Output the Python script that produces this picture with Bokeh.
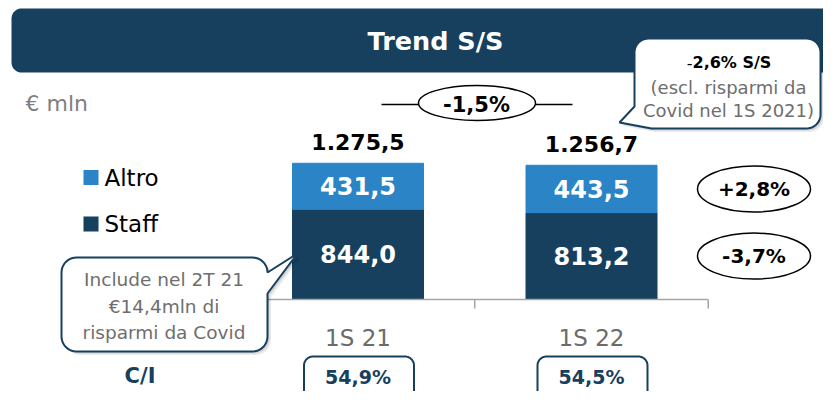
import math
from bokeh.plotting import figure
from bokeh.models import ColumnDataSource, Range1d
from bokeh.core.properties import value
from bokeh.embed import file_html
from bokeh.resources import INLINE

# ---------------- data ----------------
periods = ["1S 21", "1S 22"]
staff = [844.0, 813.2]
altro = [431.5, 443.5]
totals = [1275.5, 1256.7]
cost_income = ["54,9%", "54,5%"]
series = ["Staff", "Altro"]
var_total = "-1,5%"
var_altro = "+2,8%"
var_staff = "-3,7%"
title_text = "Trend S/S"
unit_text = "€ mln"
ci_label = "C/I"
note_right = ["-", "2,6% S/S", "(escl. risparmi da", "Covid nel 1S 2021)"]
note_left = ["Include nel 2T 21", "€14,4mln di", "risparmi da Covid"]


def it_fmt(v):
    s = f"{v:,.1f}"
    return s.replace(",", "X").replace(".", ",").replace("X", ".")


NAVY = "#17405f"
BLUE = "#2a84c6"
GRAY = "#6e6e6e"
AXIS = "#a6a6a6"
FONT = "DejaVu Sans"

W, H = 823, 391
CX0, CSTEP = 357.5, 233.5      # px of category 0 and px per category
Y0, PPU = 299.0, 0.1068        # px of value 0 and px per unit

p = figure(width=W, height=H, output_backend="svg", toolbar_location=None,
           x_range=Range1d((0 - CX0) / CSTEP, (W - CX0) / CSTEP),
           y_range=Range1d(-(H - Y0) / PPU, Y0 / PPU),
           x_axis_location=None, y_axis_location=None, min_border=0,
           outline_line_color=None, tools="")
p.grid.visible = False
p.background_fill_color = "white"
p.border_fill_color = "white"
p.extra_x_ranges = {"px": Range1d(0, W)}
p.extra_y_ranges = {"px": Range1d(H, 0)}
PX = dict(x_range_name="px", y_range_name="px")


def rounded_poly(x0, y0, x1, y1, r, tail_right=None, tail_bl=None, n=10):
    pts = []

    def arc(cx, cy, a0, a1):
        for k in range(n + 1):
            a = math.radians(a0 + (a1 - a0) * k / n)
            pts.append((cx + r * math.cos(a), cy + r * math.sin(a)))
    arc(x0 + r, y0 + r, 180, 270)
    arc(x1 - r, y0 + r, 270, 360)
    if tail_right:
        pts.extend(tail_right)
    arc(x1 - r, y1 - r, 0, 90)
    if tail_bl:
        pts.extend(tail_bl)
    else:
        arc(x0 + r, y1 - r, 90, 180)
    return [q[0] for q in pts], [q[1] for q in pts]


def shape(xs, ys, fill, line=None, lw=0, shadow=False):
    if shadow:
        for off, al in ((3.5, 0.08), (2.0, 0.10)):
            p.patch([x + off for x in xs], [y + off for y in ys],
                    fill_color="black", fill_alpha=al, line_color=None, **PX)
    p.patch(xs, ys, fill_color=fill, line_color=line, line_width=lw, **PX)


def txt(x, y, s, size, color="black", bold=False, align="center", **kw):
    p.text(x=[x], y=[y], text=[s], text_font=value(FONT),
           text_font_size=f"{size}px", text_color=color,
           text_font_style="bold" if bold else "normal",
           text_align=align, text_baseline="middle", **kw)


# ---------------- title bar ----------------
xs, ys = rounded_poly(11, 8, 836, 72, 10)
shape(xs, ys, NAVY)
txt(435, 40, title_text, 25.5, "white", True, **PX)
txt(25, 103, unit_text, 22, "#7f7f7f", align="left", **PX)

# ---------------- bars ----------------
idx = list(range(len(periods)))
src = ColumnDataSource(dict(
    x=idx, Staff=staff, Altro=altro,
    staff_mid=[s / 2 for s in staff],
    altro_mid=[s + a / 2 for s, a in zip(staff, altro)],
    staff_lbl=[it_fmt(v) for v in staff],
    altro_lbl=[it_fmt(v) for v in altro],
    tot_y=[t + 21 / PPU for t in totals],
    tot_lbl=[it_fmt(v) for v in totals],
    cat_y=[-38 / PPU] * len(periods),
    cat=periods,
))
p.vbar_stack(series, x="x", width=131 / CSTEP, source=src, color=[NAVY, BLUE])

common = dict(text_font=value(FONT), text_align="center", text_baseline="middle")
p.text(x="x", y="staff_mid", text="staff_lbl", source=src, text_color="white",
       text_font_size="24px", text_font_style="bold", **common)
p.text(x="x", y="altro_mid", text="altro_lbl", source=src, text_color="white",
       text_font_size="24px", text_font_style="bold", **common)
p.text(x="x", y="tot_y", text="tot_lbl", source=src, text_color="black",
       text_font_size="22px", text_font_style="bold", **common)
p.text(x="x", y="cat_y", text="cat", source=src, text_color="#6b6b6b",
       text_font_size="23px", **common)

# category axis
n = len(periods)
p.segment(x0=[-0.5], y0=[0], x1=[n - 0.5], y1=[0], line_color=AXIS, line_width=1.5)
p.segment(x0=[i - 0.5 for i in range(n + 1)], y0=[0] * (n + 1),
          x1=[i - 0.5 for i in range(n + 1)], y1=[-9 / PPU] * (n + 1),
          line_color=AXIS, line_width=1.5)

# ---------------- legend ----------------
for lab, col, yy in ((series[1], BLUE, 177), (series[0], NAVY, 223.5)):
    p.rect(x=[90.5], y=[yy], width=15, height=15, width_units="screen",
           height_units="screen", fill_color=col, line_color=None, **PX)
    txt(104, yy, lab, 23, "black", align="left", **PX)

# ---------------- total variation ----------------
p.segment(x0=[381], y0=[104], x1=[572], y1=[104], line_color="black", line_width=1.5, **PX)
p.ellipse(x=[476.5], y=[102.5], width=117, height=35, width_units="screen",
          height_units="screen", fill_color="white", line_color="black", line_width=1.5, **PX)
txt(476, 104, var_total, 21, "black", True, **PX)

# ---------------- component variations ----------------
last = n - 1
ex = last + (753.5 - CX0 - last * CSTEP) / CSTEP
for yv, lab in ((staff[last] + altro[last] / 2, var_altro), (staff[last] / 2, var_staff)):
    p.ellipse(x=[ex], y=[yv], width=113, height=46, width_units="screen",
              height_units="screen", fill_color="white", line_color="black", line_width=1.5)
    txt(ex, yv, lab, 20, "black", True)

# ---------------- callouts ----------------
xs, ys = rounded_poly(634, 38, 820, 128, 14,
                      tail_bl=[(651, 128), (619, 122), (634, 106)])
shape(xs, ys, "white", NAVY, 2, shadow=True)
txt(692, 62, note_right[0], 16, "black", align="right", **PX)
txt(692, 62, note_right[1], 16, "black", True, align="left", **PX)
txt(728, 87, note_right[2], 18, GRAY, **PX)
txt(728, 110, note_right[3], 18, GRAY, **PX)

xs, ys = rounded_poly(61, 257, 267, 351, 15,
                      tail_right=[(267, 272), (297, 253), (267, 293)])
shape(xs, ys, "white", NAVY, 2, shadow=True)
for k, line in enumerate(note_left):
    txt(163.5, 279 + k * 26.5, line, 18.5, GRAY, **PX)

# ---------------- C/I ----------------
txt(139.5, 375, ci_label, 21, NAVY, True, **PX)
for i, lab in enumerate(cost_income):
    cx = CX0 + i * CSTEP
    xs, ys = rounded_poly(cx - 54, 356, cx + 56, 402, 9)
    shape(xs, ys, "white", NAVY, 2)
    txt(cx, 376, lab, 19, NAVY, True, **PX)

open("out.html", "w").write(file_html(p, INLINE))
